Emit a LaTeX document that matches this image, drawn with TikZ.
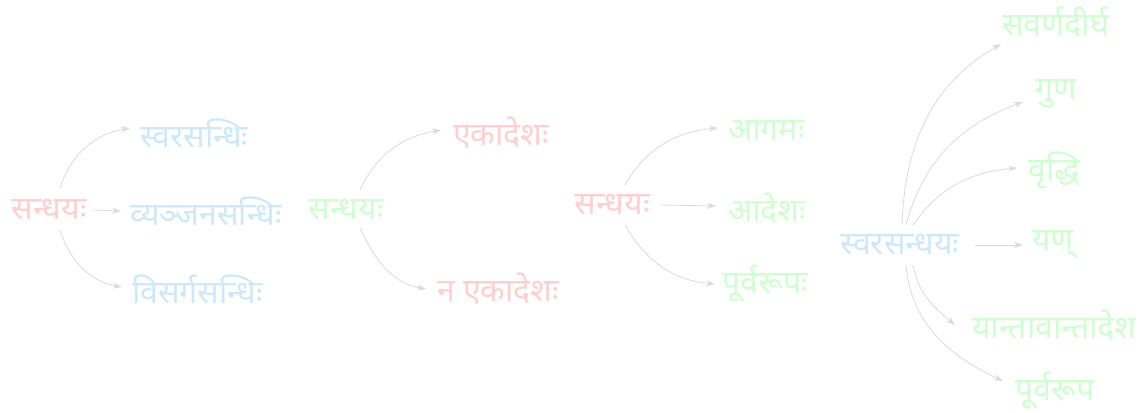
\documentclass[tikz,border=0pt]{standalone}
\usepackage{fontspec}
\newfontfamily\deva[Script=Devanagari]{Noto Sans}
\usetikzlibrary{arrows.meta,calc}
\definecolor{tpink}{RGB}{255,206,206}
\definecolor{tblue}{RGB}{204,232,250}
\definecolor{tgreen}{RGB}{206,255,206}
\definecolor{egray}{RGB}{218,218,218}
\begin{document}
\begin{tikzpicture}[x=1pt,y=1pt,
  lbl/.style={font=\deva\fontsize{32}{38}\selectfont, inner sep=0pt},
  root/.style={lbl, anchor=center},
  leaf/.style={lbl, anchor=west},
  edge/.style={draw=egray, line width=0.8pt, -{Stealth[length=9pt,width=6pt]}}]
\useasboundingbox (0,0) rectangle (1145,412);
% group 1
\node[root, text=tpink] (r1) at (49,202) {सन्धयः};
\node[leaf, text=tblue] (a1) at (140,279) {स्वरसन्धिः};
\node[leaf, text=tblue] (a2) at (130,201) {व्यञ्जनसन्धिः};
\node[leaf, text=tblue] (a3) at (132,123) {विसर्गसन्धिः};
\draw[edge] ($(r1.center)+(11,22)$) to[out=72,in=190] ($(a1.west)+(-10,5)$);
\draw[edge] ($(r1.east)+(6,0)$) -- ($(a2.west)+(-9,0)$);
\draw[edge] ($(r1.center)+(11,-20)$) to[out=-72,in=170] ($(a3.west)+(-10,2)$);
% group 2
\node[root, text=tgreen] (r2) at (346,202) {सन्धयः};
\node[leaf, text=tpink] (b1) at (453,279) {एकादेशः};
\node[leaf, text=tpink] (b2) at (437,123) {न एकादेशः};
\draw[edge] ($(r2.center)+(14,20)$) to[out=65,in=190] ($(b1.west)+(-12,3)$);
\draw[edge] ($(r2.center)+(14,-18)$) to[out=-65,in=170] ($(b2.west)+(-11,0)$);
% group 3
\node[root, text=tpink] (r3) at (612,207) {सन्धयः};
\node[leaf, text=tgreen] (c1) at (728,282) {आगमः};
\node[leaf, text=tgreen] (c2) at (728,204) {आदेशः};
\node[leaf, text=tgreen] (c3) at (722,128) {पूर्वरूपः};
\draw[edge] ($(r3.center)+(13,20)$) to[out=60,in=185] ($(c1.west)+(-10,2)$);
\draw[edge] ($(r3.east)+(10,0)$) -- ($(c2.west)+(-12,2)$);
\draw[edge] ($(r3.center)+(13,-20)$) to[out=-60,in=175] ($(c3.west)+(-7,0)$);
% group 4
\node[root, text=tblue] (r4) at (900,167) {स्वरसन्धयः};
\node[leaf, text=tgreen] (d1) at (1002,390) {सवर्णदीर्घ};
\node[leaf, text=tgreen] (d2) at (1035,318) {गुण};
\node[leaf, text=tgreen] (d3) at (1028,242) {वृद्धि};
\node[leaf, text=tgreen] (d4) at (1032,167) {यण्};
\node[leaf, text=tgreen] (d5) at (972,87) {यान्तावान्तादेश};
\node[leaf, text=tgreen] (d6) at (1015,21) {पूर्वरूप};
\draw[edge] ($(r4.center)+(2,20)$) to[out=88,in=210] ($(d1.west)+(-1,-22)$);
\draw[edge] ($(r4.center)+(6,20)$) to[out=75,in=200] ($(d2.west)+(-12,-8)$);
\draw[edge] ($(r4.center)+(13,20)$) to[out=55,in=185] ($(d3.west)+(-11,2)$);
\draw[edge] ($(r4.center)+(75,0)$) -- ($(d4.west)+(-9,0)$);
\draw[edge] ($(r4.center)+(13,-20)$) to[out=-80,in=140] ($(d5.west)+(-17,0)$);
\draw[edge] ($(r4.center)+(6,-20)$) to[out=-85,in=155] ($(d6.west)+(-12,10)$);
\end{tikzpicture}
\end{document}
